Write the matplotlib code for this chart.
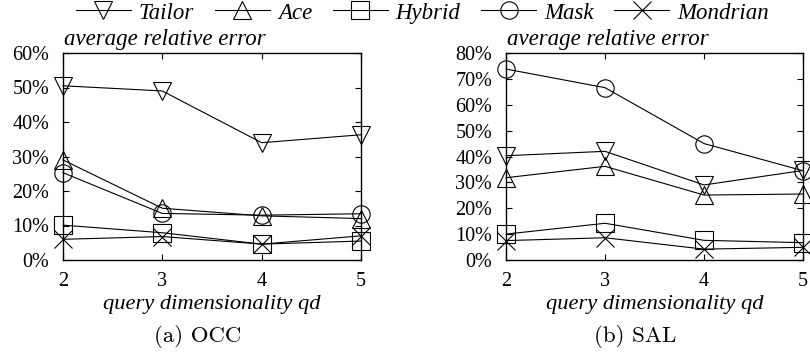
import matplotlib
matplotlib.use("Agg")
import matplotlib.pyplot as plt
from matplotlib.ticker import FuncFormatter

# query dimensionality
dims = [2, 3, 4, 5]
methods = ["Tailor", "Ace", "Hybrid", "Mask", "Mondrian"]
markers = ["v", "^", "s", "o", "x"]

# (a) OCC, average relative error in %
occ_tailor = [50.5, 49.0, 34.0, 36.3]
occ_ace = [29.0, 15.0, 12.8, 12.0]
occ_hybrid = [10.1, 7.9, 4.6, 5.5]
occ_mask = [25.3, 13.5, 13.0, 13.4]
occ_mondrian = [6.0, 6.8, 4.6, 7.0]

# (b) SAL
sal_tailor = [40.3, 42.0, 29.0, 34.6]
sal_ace = [31.8, 36.2, 25.1, 25.5]
sal_hybrid = [10.0, 14.2, 7.6, 6.7]
sal_mask = [73.8, 66.6, 45.0, 34.5]
sal_mondrian = [7.5, 8.6, 4.2, 4.9]

serif = ["Liberation Serif", "DejaVu Serif"]
plt.rcParams["font.family"] = serif

W, H = 810, 353
fig = plt.figure(figsize=(W / 100, H / 100), dpi=100)


def px_axes(x0, x1, y0, y1):
    return fig.add_axes([x0 / W, 1 - y1 / H, (x1 - x0) / W, (y1 - y0) / H])


def draw(ax, series, ymax, step):
    for vals, m in zip(series, markers):
        ax.plot(dims, vals, color="black", lw=0.8, marker=m, markersize=12.5,
                markerfacecolor="none", markeredgecolor="black", markeredgewidth=0.8,
                clip_on=False)
    ax.set_xlim(2, 5)
    ax.set_ylim(0, ymax)
    ax.set_xticks(dims)
    ax.set_yticks(range(0, ymax + 1, step))
    ax.yaxis.set_major_formatter(FuncFormatter(lambda v, _: f"{v:.0f}%"))
    ax.tick_params(direction="in", length=4, width=0.8, top=True, right=True,
                   labelsize=14.5)
    ax.tick_params(axis="y", pad=10)
    ax.tick_params(axis="x", pad=9)
    for s in ax.spines.values():
        s.set_linewidth(1.0)
        s.set_zorder(0)


ax1 = px_axes(63, 361, 53, 260)
draw(ax1, [occ_tailor, occ_ace, occ_hybrid, occ_mask, occ_mondrian], 60, 10)
ax2 = px_axes(506, 803, 53, 260)
draw(ax2, [sal_tailor, sal_ace, sal_hybrid, sal_mask, sal_mondrian], 80, 10)

for ax, cap, cx in [(ax1, "(a) OCC", 198), (ax2, "(b) SAL", 635)]:
    x0 = ax.get_position().x0
    fig.text(x0 + 1 / W, 1 - 40 / H, "average relative error", style="italic",
             fontsize=16.5, ha="left", va="center")
    xc = (ax.get_position().x0 + ax.get_position().x1) / 2
    fig.text(xc, 1 - 305 / H, "query dimensionality qd", style="italic",
             fontsize=16.2, ha="center", va="center")
    fig.text(cx / W, 1 - 337 / H, cap, fontsize=16.5, ha="center", va="center",
             family=["cmr10", "DejaVu Serif"])

handles = ax1.get_lines()
leg = fig.legend(handles, methods, loc="center", bbox_to_anchor=(422.5 / W, 1 - 13 / H),
                 ncol=5, frameon=False, handlelength=2.4, handletextpad=0.35,
                 columnspacing=0.9, borderaxespad=0, borderpad=0,
                 prop={"style": "italic", "size": 16.5})

fig.savefig("out.png", dpi=100)
